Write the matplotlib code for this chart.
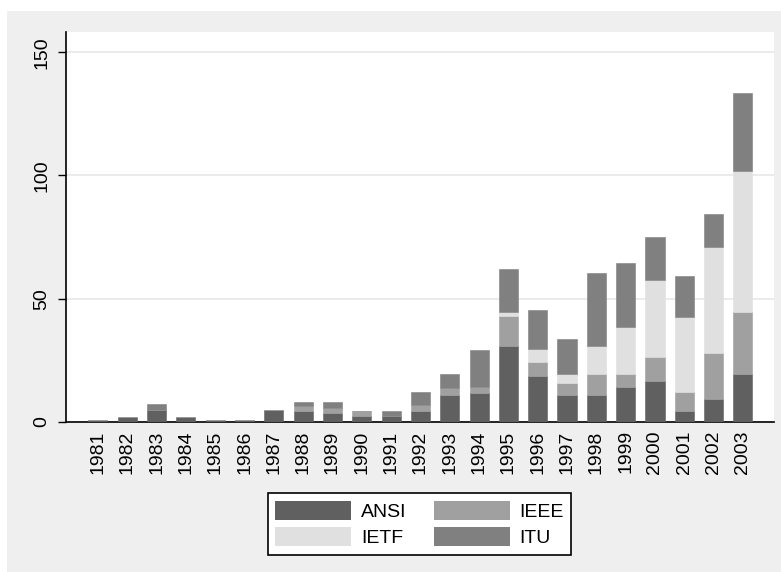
import matplotlib
matplotlib.use("Agg")
import matplotlib.pyplot as plt
import numpy as np
from matplotlib.patches import Rectangle, Patch

years = [str(y) for y in range(1981, 2004)]
ansi = [1, 2, 5, 2, 1, 1, 5, 4.5, 3.5, 2.6, 2.6, 4.6, 11, 11.6, 31, 18.6, 11, 11, 14.4, 16.6, 4.6, 9.4, 19.3]
ieee = [0, 0, 0, 0, 0, 0, 0, 1.8, 2.2, 2, 0, 2.1, 2.9, 2.8, 12, 5.6, 4.9, 8.6, 5.1, 9.7, 7.7, 18.6, 25.4]
ietf = [0, 0, 0, 0, 0, 0, 0, 0, 0, 0, 0, 0, 0, 0, 1.5, 5.6, 3.5, 11.1, 18.9, 31.1, 30.3, 42.8, 57]
itu = [0, 0, 2.2, 0, 0, 0, 0, 1.8, 2.4, 0, 1.9, 5.6, 5.7, 14.9, 17.7, 15.6, 14.1, 29.6, 26, 17.6, 16.8, 13.5, 31.9]

colors = {"ANSI": "#606060", "IEEE": "#a0a0a0", "IETF": "#e0e0e0", "ITU": "#808080"}

W, H = 781, 572
fig = plt.figure(figsize=(W / 100, H / 100), dpi=100, facecolor="white")
fig.patches.append(Rectangle((7 / W, -0.01), 1.1, 1.01 - 11 / H, transform=fig.transFigure,
                             facecolor="#efefef", edgecolor="none", zorder=-10))

ax = fig.add_axes([66 / W, 1 - 422 / H, (774 - 66) / W, (422 - 32) / H])
ax.set_facecolor("white")

x = np.arange(len(years))
bw = 0.65
bottom = np.zeros(len(years))
for name, vals in [("ANSI", ansi), ("IEEE", ieee), ("IETF", ietf), ("ITU", itu)]:
    v = np.array(vals, dtype=float)
    ax.bar(x, v, bw, bottom=bottom, color=colors[name], edgecolor=colors[name],
           linewidth=0.4, zorder=3)
    bottom += v

ax.set_xlim(-1.09, len(years) - 1 + 1.06)
ax.set_ylim(0, 158.2)
ax.set_yticks([0, 50, 100, 150])
ax.set_yticklabels(["0", "50", "100", "150"], rotation=90, va="center",
                   fontsize=14, family="Liberation Sans")
ax.set_xticks(x)
ax.set_xticklabels(years, rotation=90, fontsize=14, family="Liberation Sans")
ax.tick_params(axis="x", length=0, pad=6)
ax.tick_params(axis="y", length=6, width=1, pad=5, color="black")
ax.grid(axis="y", color="#e8e8e8", linewidth=1.2, zorder=0)
for s in ["top", "right"]:
    ax.spines[s].set_visible(False)
for s in ["left", "bottom"]:
    ax.spines[s].set_color("black")
    ax.spines[s].set_linewidth(1.2)

handles = [Patch(facecolor=colors["ANSI"], edgecolor="none", label="ANSI"),
           Patch(facecolor=colors["IETF"], edgecolor="none", label="IETF"),
           Patch(facecolor=colors["IEEE"], edgecolor="none", label="IEEE"),
           Patch(facecolor=colors["ITU"], edgecolor="none", label="ITU")]
leg = fig.legend(handles=handles, ncol=2, loc="center",
                 bbox_to_anchor=(419.5 / W, 1 - 524 / H),
                 prop={"family": "Liberation Sans", "size": 14},
                 frameon=True, fancybox=False, handlelength=3.9, handleheight=1.1,
                 handletextpad=0.5, columnspacing=1.4, labelspacing=0.3,
                 borderpad=0.4)
leg.get_frame().set_edgecolor("black")
leg.get_frame().set_linewidth(1.2)
leg.get_frame().set_facecolor("white")
leg.get_frame().set_alpha(1)

fig.savefig("out.png", dpi=100, facecolor=fig.get_facecolor())
